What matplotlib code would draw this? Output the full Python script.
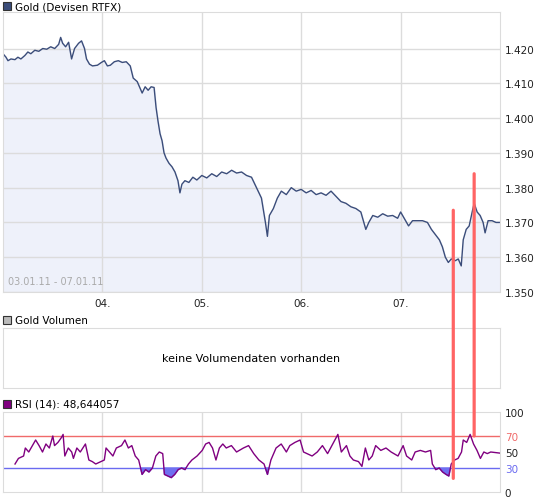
import numpy as np
import matplotlib
matplotlib.use("Agg")
import matplotlib.pyplot as plt
from matplotlib.patches import ConnectionPatch

price_days = [0.00,0.03,0.05,0.08,0.12,0.15,0.18,0.22,0.25,0.28,0.32,0.36,0.40,0.44,0.48,0.52,0.56,0.58,0.60,0.63,0.66,0.69,0.72,0.76,0.79,0.82,0.84,0.87,0.90,0.95,0.99,1.02,1.05,1.08,1.12,1.16,1.20,1.24,1.28,1.31,1.35,1.38,1.40,1.43,1.46,1.49,1.52,1.54,1.56,1.58,1.60,1.62,1.64,1.67,1.70,1.73,1.76,1.78,1.80,1.83,1.87,1.91,1.95,2.00,2.05,2.10,2.15,2.20,2.25,2.30,2.35,2.40,2.45,2.50,2.55,2.60,2.64,2.66,2.68,2.72,2.76,2.80,2.85,2.90,2.95,3.00,3.05,3.10,3.15,3.20,3.25,3.30,3.35,3.40,3.45,3.50,3.55,3.60,3.65,3.68,3.72,3.77,3.82,3.87,3.92,3.97,4.00,4.04,4.08,4.12,4.17,4.22,4.27,4.31,4.35,4.39,4.42,4.45,4.48,4.51,4.55,4.58,4.61,4.63,4.66,4.69,4.72,4.74,4.77,4.80,4.83,4.85,4.88,4.92,4.96,5.00]
price_vals = [1.4185,1.4175,1.4165,1.4170,1.4168,1.4175,1.4170,1.4180,1.4190,1.4185,1.4195,1.4192,1.4200,1.4198,1.4205,1.4200,1.4212,1.4232,1.4215,1.4205,1.4218,1.4170,1.4200,1.4215,1.4222,1.4200,1.4170,1.4155,1.4150,1.4152,1.4160,1.4165,1.4150,1.4152,1.4162,1.4165,1.4160,1.4162,1.4150,1.4115,1.4105,1.4085,1.4072,1.4090,1.4080,1.4090,1.4088,1.4030,1.3990,1.3955,1.3935,1.3900,1.3885,1.3870,1.3860,1.3845,1.3820,1.3785,1.3810,1.3820,1.3815,1.3830,1.3822,1.3835,1.3828,1.3840,1.3832,1.3845,1.3840,1.3850,1.3842,1.3845,1.3835,1.3830,1.3800,1.3770,1.3700,1.3660,1.3720,1.3740,1.3770,1.3790,1.3780,1.3800,1.3790,1.3795,1.3785,1.3792,1.3780,1.3785,1.3778,1.3790,1.3775,1.3760,1.3755,1.3745,1.3740,1.3730,1.3680,1.3700,1.3720,1.3715,1.3725,1.3718,1.3720,1.3712,1.3730,1.3710,1.3690,1.3705,1.3705,1.3705,1.3700,1.3680,1.3665,1.3650,1.3630,1.3600,1.3585,1.3595,1.3590,1.3595,1.3575,1.3650,1.3680,1.3690,1.3730,1.3755,1.3730,1.3720,1.3700,1.3670,1.3705,1.3705,1.3700,1.3700]

rsi_ticks = [35,45,60,65,75,95,105,115,125,135,145,150,160,170,175,180,190,200,205,215,225,240,250,260,270,285,295,300,310,320,330,345,355,365,375,385,395,405,415,425,435,445,455,465,470,480,490,500,510,520,530,540,550,565,580,590,600,610,620,630,640,650,665,680,700,715,730,745,760,770,780,795,810,825,835,850,865,875,885,900,915,930,945,960,975,985,1000,1010,1020,1035,1045,1055,1065,1075,1085,1100,1115,1130,1150,1165,1175,1190,1200,1215,1230,1245,1250,1260,1270,1280,1290,1298,1305,1315,1325,1335,1340,1350,1360,1370,1380,1390,1400,1410,1420,1447]
rsi_vals = [35,42,45,55,50,65,58,50,60,55,70,58,62,68,72,45,55,50,42,55,50,60,40,38,35,38,40,55,50,45,55,58,65,55,58,45,40,22,28,25,30,45,50,48,22,20,18,22,28,30,28,35,40,45,52,60,62,55,40,55,60,55,58,50,55,58,48,40,35,22,40,55,60,50,58,62,65,50,48,45,50,58,48,60,72,50,58,45,40,38,32,55,40,45,58,52,55,50,45,58,45,40,50,52,50,52,35,28,30,25,22,20,35,40,42,50,65,62,72,60,52,42,50,48,50,48.6]
rsi_days = np.array(rsi_ticks) / 289.4

day_labels = ["04.", "05.", "06.", "07."]

W, H = 545, 502
fig = plt.figure(figsize=(W/100, H/100), dpi=100)
def ax_at(l, t, r, b):
    return fig.add_axes([l/W, 1-b/H, (r-l)/W, (b-t)/H])

grid_c = "#dcdcdc"
line_c = "#3b4d7a"

def style(ax):
    for s in ax.spines.values():
        s.set_color(grid_c)
    ax.set_xlim(0, 5)
    ax.set_xticks([1, 2, 3, 4])
    ax.grid(True, color=grid_c, lw=1)
    ax.tick_params(length=0, labelsize=7.5, colors="#222222")
    ax.yaxis.tick_right()
    ax.set_xticklabels([])

ax1 = ax_at(3, 13, 500, 293)
style(ax1)
ax1.fill_between(price_days, price_vals, 1.3, color="#eef1fa", zorder=1)
ax1.plot(price_days, price_vals, color=line_c, lw=1, zorder=2)
ax1.set_ylim(1.350, 1.4305)
ax1.set_yticks([1.35, 1.36, 1.37, 1.38, 1.39, 1.40, 1.41, 1.42])
ax1.set_yticklabels(["1.350","1.360","1.370","1.380","1.390","1.400","1.410","1.420"])
ax1.set_xticklabels(day_labels)
ax1.tick_params(axis="x", pad=4)
ax1.text(0.01, 0.02, "03.01.11 - 07.01.11", transform=ax1.transAxes, fontsize=7, color="#aaaaaa", va="bottom")

ax2 = ax_at(3, 329, 500, 389)
style(ax2)
ax2.grid(False)
ax2.set_yticks([])
ax2.text(0.5, 0.5, "keine Volumendaten vorhanden", transform=ax2.transAxes, ha="center", va="center", fontsize=8)

ax3 = ax_at(3, 413, 500, 493)
style(ax3)
ax3.set_ylim(0, 100)
ax3.set_yticks([0, 30, 50, 70, 100])
ax3.grid(False)
for x in [1, 2, 3, 4]:
    ax3.axvline(x, color=grid_c, lw=1, zorder=0)
ax3.axhline(70, color="#f06a6a", lw=1)
ax3.axhline(30, color="#6a6af0", lw=1)
rv = np.array(rsi_vals, float)
ax3.fill_between(rsi_days, rv, 30, where=rv < 30, interpolate=True, color="#6f6ff0", zorder=2)
ax3.plot(rsi_days, rv, color="#800080", lw=1, zorder=3)
for lab in ax3.get_yticklabels():
    t = lab.get_text()
    if t == "70": lab.set_color("#f06a6a")
    if t == "30": lab.set_color("#6a6af0")

# titles with squares
def title(y, txt, c):
    fig.patches.append(plt.Rectangle((3/W, 1-(y+4)/H), 8/W, 8/H, transform=fig.transFigure, facecolor=c, edgecolor="#333333", lw=0.8))
    fig.text(15/W, 1-y/H, txt, fontsize=7.5, va="center")
title(7, "Gold (Devisen RTFX)", "#3b4d7a")
title(321, "Gold Volumen", "#bbbbbb")
title(405, "RSI (14): 48,644057", "#800080")

# red markers
red_days = [4.53, 4.74]
red_price = [1.3735, 1.3840]
red_rsi = [17, 70]
for d, p, r in zip(red_days, red_price, red_rsi):
    cp = ConnectionPatch((d, p), (d, r), "data", "data", axesA=ax1, axesB=ax3, color="#ff6464", lw=2.3, zorder=10)
    fig.add_artist(cp)

fig.savefig("out.png", dpi=100)
